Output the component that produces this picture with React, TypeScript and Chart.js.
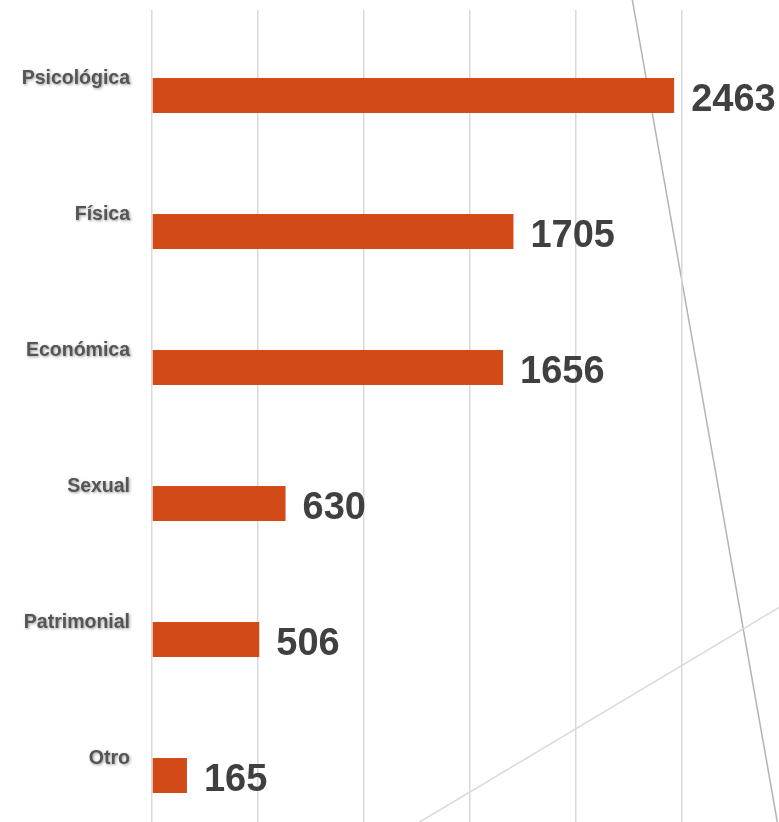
import React, { useEffect, useRef } from "react";
import { Chart, registerables } from "chart.js";

Chart.register(...registerables);

const categories = ["Psicológica", "Física", "Económica", "Sexual", "Patrimonial", "Otro"];
const values = [2463, 1705, 1656, 630, 506, 165];
const placeholderValues = categories.map(() => null);
const xMin = 0;
const xMax = 3000;
const xStep = 500;

const BAR_COLOR = "#D24A18";
const GRID_COLOR = "#D9D9D9";

const decorPlugin = {
  id: "decor",
  beforeDraw(chart: any) {
    const ctx = chart.ctx;
    ctx.save();
    ctx.lineWidth = 1.5;
    ctx.strokeStyle = "#B4B4B4";
    ctx.beginPath();
    ctx.moveTo(632, -2);
    ctx.lineTo(778, 826);
    ctx.stroke();
    ctx.strokeStyle = "#DADADA";
    ctx.beginPath();
    ctx.moveTo(413, 826);
    ctx.lineTo(790, 601);
    ctx.stroke();
    ctx.restore();
  },
};

const labelPlugin = {
  id: "labels",
  afterDatasetsDraw(chart: any) {
    const ctx = chart.ctx;
    const meta = chart.getDatasetMeta(1);
    ctx.save();
    ctx.font = 'bold 38px "Liberation Sans", Arial, sans-serif';
    ctx.fillStyle = "#404040";
    ctx.textAlign = "left";
    ctx.textBaseline = "alphabetic";
    meta.data.forEach((bar: any, i: number) => {
      ctx.fillText(String(values[i]), bar.x + 17, bar.y + 15);
    });
    const yScale = chart.scales.y;
    ctx.font = 'bold 19.5px "Liberation Sans", Arial, sans-serif';
    ctx.fillStyle = "#555555";
    ctx.textAlign = "right";
    ctx.shadowColor = "rgba(0,0,0,0.4)";
    ctx.shadowBlur = 3;
    ctx.shadowOffsetX = 1;
    ctx.shadowOffsetY = 1;
    categories.forEach((c, i) => {
      const y = yScale.getPixelForTick(i);
      ctx.fillText(c, 130, y + 6);
    });
    ctx.restore();
  },
};

export default function App() {
  const ref = useRef<HTMLCanvasElement>(null);
  useEffect(() => {
    document.documentElement.style.overflow = "hidden";
    document.body.style.margin = "0";
    document.body.style.overflow = "hidden";
    const chart = new Chart(ref.current as HTMLCanvasElement, {
      type: "bar",
      data: {
        labels: categories,
        datasets: [
          {
            label: "",
            data: placeholderValues as any,
            backgroundColor: BAR_COLOR,
            barPercentage: 1,
            categoryPercentage: 0.515,
          },
          {
            label: "Casos",
            data: values,
            backgroundColor: BAR_COLOR,
            barPercentage: 1,
            categoryPercentage: 0.515,
          },
        ],
      },
      options: {
        indexAxis: "y",
        responsive: false,
        animation: false,
        devicePixelRatio: 1,
        layout: { padding: { top: 10, left: 0, right: 0, bottom: 0 } },
        plugins: {
          legend: { display: false },
          tooltip: { enabled: false },
          title: { display: false },
        },
        scales: {
          x: {
            type: "linear",
            min: xMin,
            max: xMax,
            ticks: { display: false, stepSize: xStep },
            grid: { color: GRID_COLOR, lineWidth: 1.5, drawTicks: false },
            border: { display: false },
            afterFit: (s: any) => {
              s.height = 0;
            },
          },
          y: {
            type: "category",
            ticks: { display: false },
            grid: { display: false, drawTicks: false },
            border: { display: false },
            afterFit: (s: any) => {
              s.width = 152;
            },
          },
        },
      },
      plugins: [decorPlugin, labelPlugin],
    });
    return () => chart.destroy();
  }, []);
  return (
    <div style={{ position: "absolute", left: 0, top: 0, width: 788, height: 826 }}>
      <canvas ref={ref} width={788} height={826} style={{ display: "block", width: 788, height: 826 }} />
    </div>
  );
}
